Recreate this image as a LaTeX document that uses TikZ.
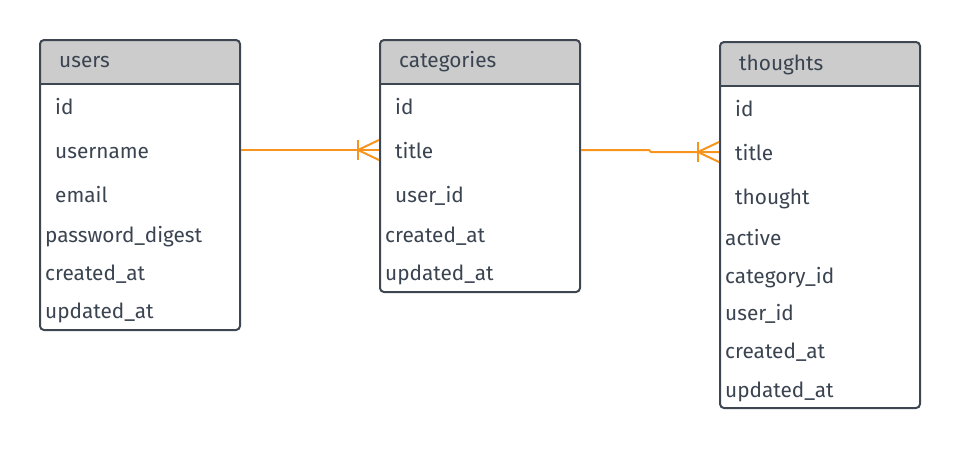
\documentclass[tikz,border=0pt]{standalone}
\usepackage{fontspec}
\setmainfont{Fira Sans}
\definecolor{edge}{HTML}{3E4652}
\definecolor{ink}{HTML}{3A4350}
\definecolor{hdr}{HTML}{CCCCCC}
\definecolor{relline}{HTML}{F7941E}
\tikzset{
  tbl/.style={draw=edge, line width=2pt, rounded corners=4pt, minimum width=200pt, inner sep=0pt},
  fld/.style={anchor=base west, inner sep=0pt, text=ink, font=\fontsize{20.8}{25}\selectfont},
  rel/.style={draw=relline, line width=2pt},
}
\begin{document}
\begin{tikzpicture}[x=1pt, y=-1pt]
  \useasboundingbox (0,0) rectangle (960,448);
  % header fills
  \fill[hdr, rounded corners=4pt] (40,40) rectangle (240,84);
  \fill[hdr] (40,60) rectangle (240,84);
  \fill[hdr, rounded corners=4pt] (380,40) rectangle (580,84);
  \fill[hdr] (380,60) rectangle (580,84);
  \fill[hdr, rounded corners=4pt] (720,42) rectangle (920,86);
  \fill[hdr] (720,62) rectangle (920,86);
  % tables
  \node[tbl, minimum height=290pt] (users) at (140,185) {}; % users
  \node[tbl, minimum height=252pt] (cats) at (480,166) {}; % categories
  \node[tbl, minimum height=366pt] (thoughts) at (820,225) {}; % thoughts
  \draw[edge, line width=2pt] (40,84) -- (240,84); % users header line
  \draw[edge, line width=2pt] (380,84) -- (580,84); % categories header line
  \draw[edge, line width=2pt] (720,86) -- (920,86); % thoughts header line
  % users fields
  \node[fld] (u-head) at (59,67) {users};
  \node[fld] (u-id) at (55,114) {id};
  \node[fld] (u-username) at (55,158) {username};
  \node[fld] (u-email) at (55,202) {email};
  \node[fld] (u-pass) at (45,242) {password\_digest};
  \node[fld] (u-created) at (45,280) {created\_at};
  \node[fld] (u-updated) at (45,318) {updated\_at};
  % categories fields
  \node[fld] (c-head) at (399,67) {categories};
  \node[fld] (c-id) at (395,114) {id};
  \node[fld] (c-title) at (395,158) {title};
  \node[fld] (c-user) at (395,202) {user\_id};
  \node[fld] (c-created) at (385,242) {created\_at};
  \node[fld] (c-updated) at (385,280) {updated\_at};
  % thoughts fields
  \node[fld] (t-head) at (739,70) {thoughts};
  \node[fld] (t-id) at (735,116) {id};
  \node[fld] (t-title) at (735,160) {title};
  \node[fld] (t-thought) at (735,204) {thought};
  \node[fld] (t-active) at (725,245) {active};
  \node[fld] (t-cat) at (725,283) {category\_id};
  \node[fld] (t-user) at (725,320) {user\_id};
  \node[fld] (t-created) at (725,358) {created\_at};
  \node[fld] (t-updated) at (725,397) {updated\_at};
  % users -> categories
  \coordinate (ucEnd) at (cats.west |- 0,150);
  \draw[rel] (users.east |- ucEnd) -- (ucEnd);
  \draw[rel] (ucEnd) ++(-21,-10) -- ++(0,20); % bar
  \draw[rel] (ucEnd) ++(0,-10) -- ++(-21,10) -- ++(21,10); % crow foot
  % categories -> thoughts
  \coordinate (ctEnd) at (thoughts.west |- 0,152);
  \draw[rel] (cats.east |- 0,150) -- (649,150) -- (651,152) -- (ctEnd);
  \draw[rel] (ctEnd) ++(-21,-10) -- ++(0,20); % bar
  \draw[rel] (ctEnd) ++(0,-10) -- ++(-21,10) -- ++(21,10); % crow foot
\end{tikzpicture}
\end{document}
